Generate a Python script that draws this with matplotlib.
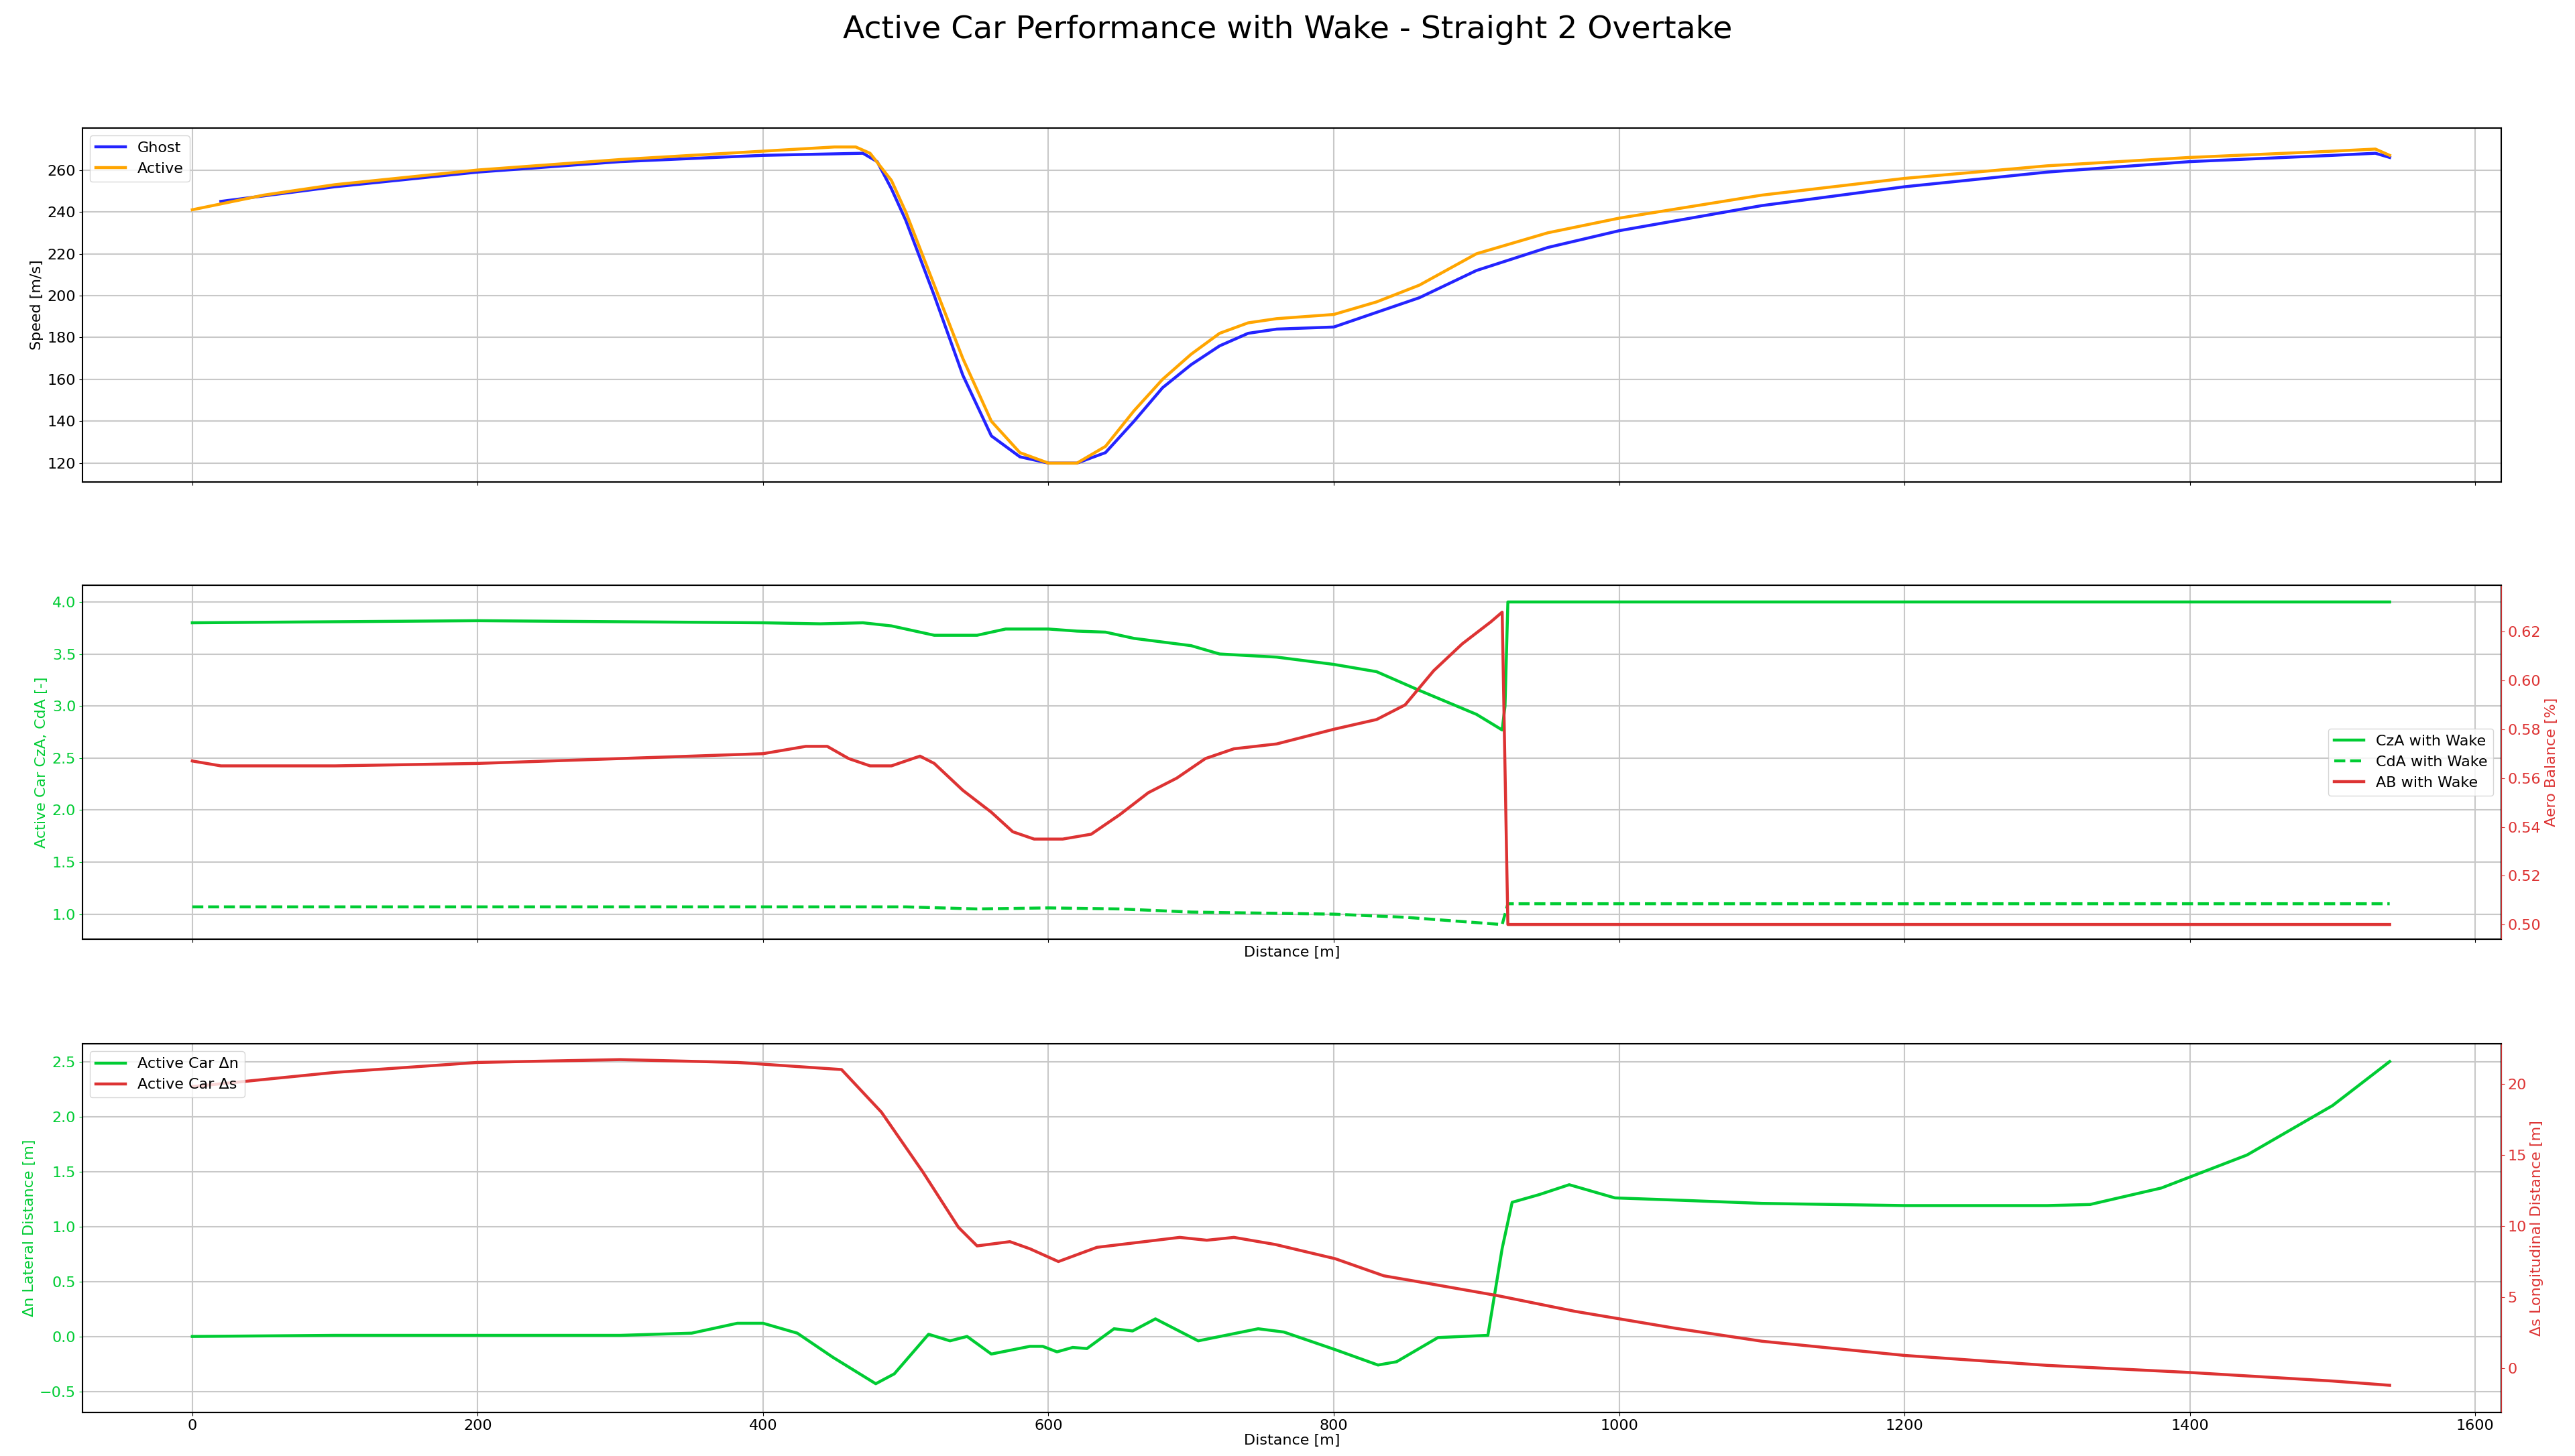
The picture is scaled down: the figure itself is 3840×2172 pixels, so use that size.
import matplotlib
matplotlib.use("Agg")
import matplotlib.pyplot as plt

# ---- Speed ----
active_d = [0,50,100,200,300,400,450,465,475,490,500,520,540,560,580,600,620,640,660,680,700,720,740,760,800,830,860,900,950,1000,1100,1200,1300,1400,1500,1530,1540]
active_v = [241,248,253,260,265,269,271,271,268,255,240,205,170,140,125,120,120,128,145,160,172,182,187,189,191,197,205,220,230,237,248,256,262,266,269,270,267]
ghost_d = [20,100,200,300,400,470,480,490,500,520,540,560,580,600,620,640,660,680,700,720,740,760,800,830,860,900,950,1000,1100,1200,1300,1400,1500,1530,1540]
ghost_v = [245,252,259,264,267,268,264,251,236,200,162,133,123,120,120,125,140,156,167,176,182,184,185,192,199,212,223,231,243,252,259,264,267,268,266]

# ---- Aero ----
cza_d = [0,100,200,300,400,440,470,490,520,550,570,600,620,640,660,700,720,760,800,830,860,900,918,920,922,1540]
cza_v = [3.80,3.81,3.82,3.81,3.80,3.79,3.80,3.77,3.68,3.68,3.74,3.74,3.72,3.71,3.65,3.58,3.50,3.47,3.40,3.33,3.15,2.92,2.77,3.0,4.0,4.0]
cda_d = [0,500,550,600,650,700,800,850,918,922,1540]
cda_v = [1.07,1.07,1.05,1.06,1.05,1.02,1.00,0.97,0.90,1.10,1.10]
ab_d = [0,20,100,200,300,400,430,445,460,475,490,500,510,520,540,560,575,590,610,630,650,670,690,710,730,760,800,830,850,870,890,910,918,922,1540]
ab_v = [0.567,0.565,0.565,0.566,0.568,0.570,0.573,0.573,0.568,0.565,0.565,0.567,0.569,0.566,0.555,0.546,0.538,0.535,0.535,0.537,0.545,0.554,0.560,0.568,0.572,0.574,0.580,0.584,0.590,0.604,0.615,0.624,0.628,0.500,0.500]

# ---- Relative position ----
dn_d = [0,100,200,300,350,382,400,424,449,479,492,516,531,543,560,587,596,606,617,627,646,659,675,705,747,765,801,831,844,873,908,918,925,944,965,997,1040,1100,1200,1300,1330,1380,1440,1500,1540]
dn_v = [0,0.01,0.01,0.01,0.03,0.12,0.12,0.03,-0.19,-0.43,-0.34,0.02,-0.04,0.0,-0.16,-0.09,-0.09,-0.14,-0.10,-0.11,0.07,0.05,0.16,-0.04,0.07,0.04,-0.12,-0.26,-0.23,-0.01,0.01,0.8,1.22,1.29,1.38,1.26,1.24,1.21,1.19,1.19,1.20,1.35,1.65,2.10,2.50]
ds_d = [0,100,200,300,382,455,483,512,537,550,573,587,607,634,659,692,711,730,759,801,835,864,915,969,1040,1100,1200,1300,1400,1500,1540]
ds_v = [19.8,20.8,21.5,21.7,21.5,21.0,18.0,13.8,9.9,8.6,8.9,8.4,7.5,8.5,8.8,9.2,9.0,9.2,8.7,7.7,6.5,6.0,5.1,4.0,2.8,1.9,0.9,0.2,-0.3,-0.9,-1.2]

BLUE = '#2424ff'; ORANGE = '#ffa500'; GREEN = '#00cc33'; RED = '#dd3333'
LW = 3.2
plt.rcParams['font.size'] = 16

fig = plt.figure(figsize=(38.41, 21.72), dpi=100)
L, W = 0.032, 0.939
ax1 = fig.add_axes([L, 0.669, W, 0.243])
ax2 = fig.add_axes([L, 0.355, W, 0.243])
ax3 = fig.add_axes([L, 0.030, W, 0.253])
fig.suptitle("Active Car Performance with Wake - Straight 2 Overtake", fontsize=34, y=0.99)

def style(ax):
    ax.set_xlim(-77, 1618)
    ax.grid(True, color='#c8c8c8', linewidth=1.5)
    ax.set_xticks([0,200,400,600,800,1000,1200,1400,1600])
    for s in ax.spines.values():
        s.set_linewidth(1.5)

style(ax1)
ax1.plot(ghost_d, ghost_v, color=BLUE, lw=LW, label='Ghost')
ax1.plot(active_d, active_v, color=ORANGE, lw=LW, label='Active')
ax1.set_ylim(111, 280)
ax1.set_yticks(range(120, 261, 20))
ax1.set_ylabel("Speed [m/s]")
ax1.tick_params(labelbottom=False)
ax1.legend(loc='upper left')

style(ax2)
l1, = ax2.plot(cza_d, cza_v, color=GREEN, lw=LW, label='CzA with Wake')
l2, = ax2.plot(cda_d, cda_v, color=GREEN, lw=LW, ls='--', label='CdA with Wake')
ax2.set_ylim(0.76, 4.16)
ax2.set_ylabel("Active Car CzA, CdA [-]", color=GREEN)
ax2.tick_params(axis='y', colors=GREEN)
ax2.tick_params(axis='x', labelbottom=False)
ax2.set_xlabel("Distance [m]")
ax2b = ax2.twinx()
l3, = ax2b.plot(ab_d, ab_v, color=RED, lw=LW, label='AB with Wake')
ax2b.set_ylim(0.494, 0.639)
ax2b.set_yticks([0.50,0.52,0.54,0.56,0.58,0.60,0.62])
ax2b.set_ylabel("Aero Balance [%]", color=RED)
ax2b.tick_params(axis='y', colors=RED)
ax2b.spines['right'].set_color(RED)
ax2b.legend([l1, l2, l3], [l.get_label() for l in (l1, l2, l3)], loc='center right', bbox_to_anchor=(1.0, 0.5))

style(ax3)
m1, = ax3.plot(dn_d, dn_v, color=GREEN, lw=LW, label='Active Car Δn')
ax3.set_ylim(-0.69, 2.66)
ax3.set_ylabel("Δn Lateral Distance [m]", color=GREEN)
ax3.tick_params(axis='y', colors=GREEN)
ax3.set_xlabel("Distance [m]", labelpad=2)
ax3b = ax3.twinx()
m2, = ax3b.plot(ds_d, ds_v, color=RED, lw=LW, label='Active Car Δs')
ax3b.set_ylim(-3.1, 22.8)
ax3b.set_ylabel("Δs Longitudinal Distance [m]", color=RED)
ax3b.tick_params(axis='y', colors=RED)
ax3b.spines['right'].set_color(RED)
ax3b.legend([m1, m2], [m1.get_label(), m2.get_label()], loc='upper left')

fig.savefig("out.png", dpi=100)
